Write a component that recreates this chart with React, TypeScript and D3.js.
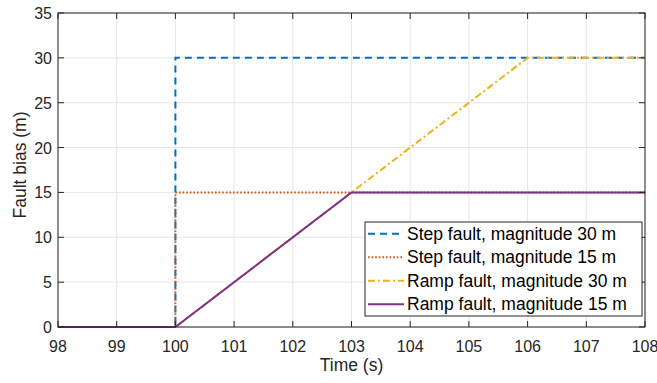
import React from "react";
import * as d3 from "d3";

const times = [98, 100, 100, 108];
const step30 = [0, 0, 30, 30];
const step15 = [0, 0, 15, 15];
const rampTimes = [98, 100, 106, 108];
const ramp30 = [0, 0, 30, 30];
const rampTimes15 = [98, 100, 103, 108];
const ramp15 = [0, 0, 15, 15];
const xTicks = [98, 99, 100, 101, 102, 103, 104, 105, 106, 107, 108];
const yTicks = [0, 5, 10, 15, 20, 25, 30, 35];
const seriesNames = [
  "Step fault, magnitude 30 m",
  "Step fault, magnitude 15 m",
  "Ramp fault, magnitude 30 m",
  "Ramp fault, magnitude 15 m",
];

const W = 657, H = 383;
const M = { left: 58, right: 12, top: 13, bottom: 56 };
const font = "'Liberation Sans', Arial, Helvetica, sans-serif";
const axisColor = "#262626";
const gridColor = "#e6e6e6";

export default function App() {
  const x = d3.scaleLinear().domain([98, 108]).range([M.left, W - M.right]);
  const y = d3.scaleLinear().domain([0, 35]).range([H - M.bottom, M.top]);
  const line = d3.line<[number, number]>().x((d) => x(d[0])).y((d) => y(d[1]));
  const zip = (a: number[], b: number[]) => a.map((v, i) => [v, b[i]] as [number, number]);

  const series = [
    { name: seriesNames[0], pts: zip(times, step30), color: "#0072BD", dash: "7,5" },
    { name: seriesNames[1], pts: zip(times, step15), color: "#D95319", dash: "1.6,2" },
    { name: seriesNames[2], pts: zip(rampTimes, ramp30), color: "#EDB120", dash: "7,3,2,3" },
    { name: seriesNames[3], pts: zip(rampTimes15, ramp15), color: "#7E2F8E", dash: "" },
  ];

  const x0 = M.left, x1 = W - M.right, y0 = H - M.bottom, y1 = M.top;
  const tl = 6;

  const lg = { x: 365, y: 222, w: 277, h: 94 };
  const rowH = lg.h / 4;

  return (
    <svg width={W} height={H} style={{ position: "fixed", left: 0, top: 0, background: "#fff" }} fontFamily={font}>
      <rect x={0} y={0} width={W} height={H} fill="#fff" />
      {xTicks.map((t) => (
        <line key={"gx" + t} x1={x(t)} x2={x(t)} y1={y0} y2={y1} stroke={gridColor} strokeWidth={1} />
      ))}
      {yTicks.map((t) => (
        <line key={"gy" + t} x1={x0} x2={x1} y1={y(t)} y2={y(t)} stroke={gridColor} strokeWidth={1} />
      ))}
      {series.map((s) => (
        <path key={s.name} d={line(s.pts) || ""} fill="none" stroke={s.color} strokeWidth={2}
          strokeDasharray={s.dash || undefined} />
      ))}
      <rect x={x0} y={y1} width={x1 - x0} height={y0 - y1} fill="none" stroke={axisColor} strokeWidth={1} />
      {xTicks.map((t) => (
        <g key={"tx" + t}>
          <line x1={x(t)} x2={x(t)} y1={y0} y2={y0 - tl} stroke={axisColor} />
          <line x1={x(t)} x2={x(t)} y1={y1} y2={y1 + tl} stroke={axisColor} />
          <text x={x(t)} y={y0 + 24.5} textAnchor="middle" fontSize={16} fill={axisColor}>{t}</text>
        </g>
      ))}
      {yTicks.map((t) => (
        <g key={"ty" + t}>
          <line x1={x0} x2={x0 + tl} y1={y(t)} y2={y(t)} stroke={axisColor} />
          <line x1={x1} x2={x1 - tl} y1={y(t)} y2={y(t)} stroke={axisColor} />
          <text x={x0 - 6} y={y(t) + 6} textAnchor="end" fontSize={16} fill={axisColor}>{t}</text>
        </g>
      ))}
      <text x={(x0 + x1) / 2} y={y0 + 44} textAnchor="middle" fontSize={17.5} fill={axisColor}>Time (s)</text>
      <text transform={`translate(26,${(y0 + y1) / 2 - 5}) rotate(-90)`} textAnchor="middle" fontSize={17.5} fill={axisColor}>Fault bias (m)</text>
      <rect x={lg.x} y={lg.y} width={lg.w} height={lg.h} fill="#fff" stroke={axisColor} strokeWidth={1} />
      {series.map((s, i) => {
        const cy = lg.y + rowH * (i + 0.5);
        return (
          <g key={"lg" + i}>
            <line x1={lg.x + 3} x2={lg.x + 39} y1={cy} y2={cy} stroke={s.color} strokeWidth={2}
              strokeDasharray={s.dash || undefined} />
            <text x={lg.x + 42} y={cy + 6} fontSize={17.5} fill="#000">{s.name}</text>
          </g>
        );
      })}
    </svg>
  );
}
